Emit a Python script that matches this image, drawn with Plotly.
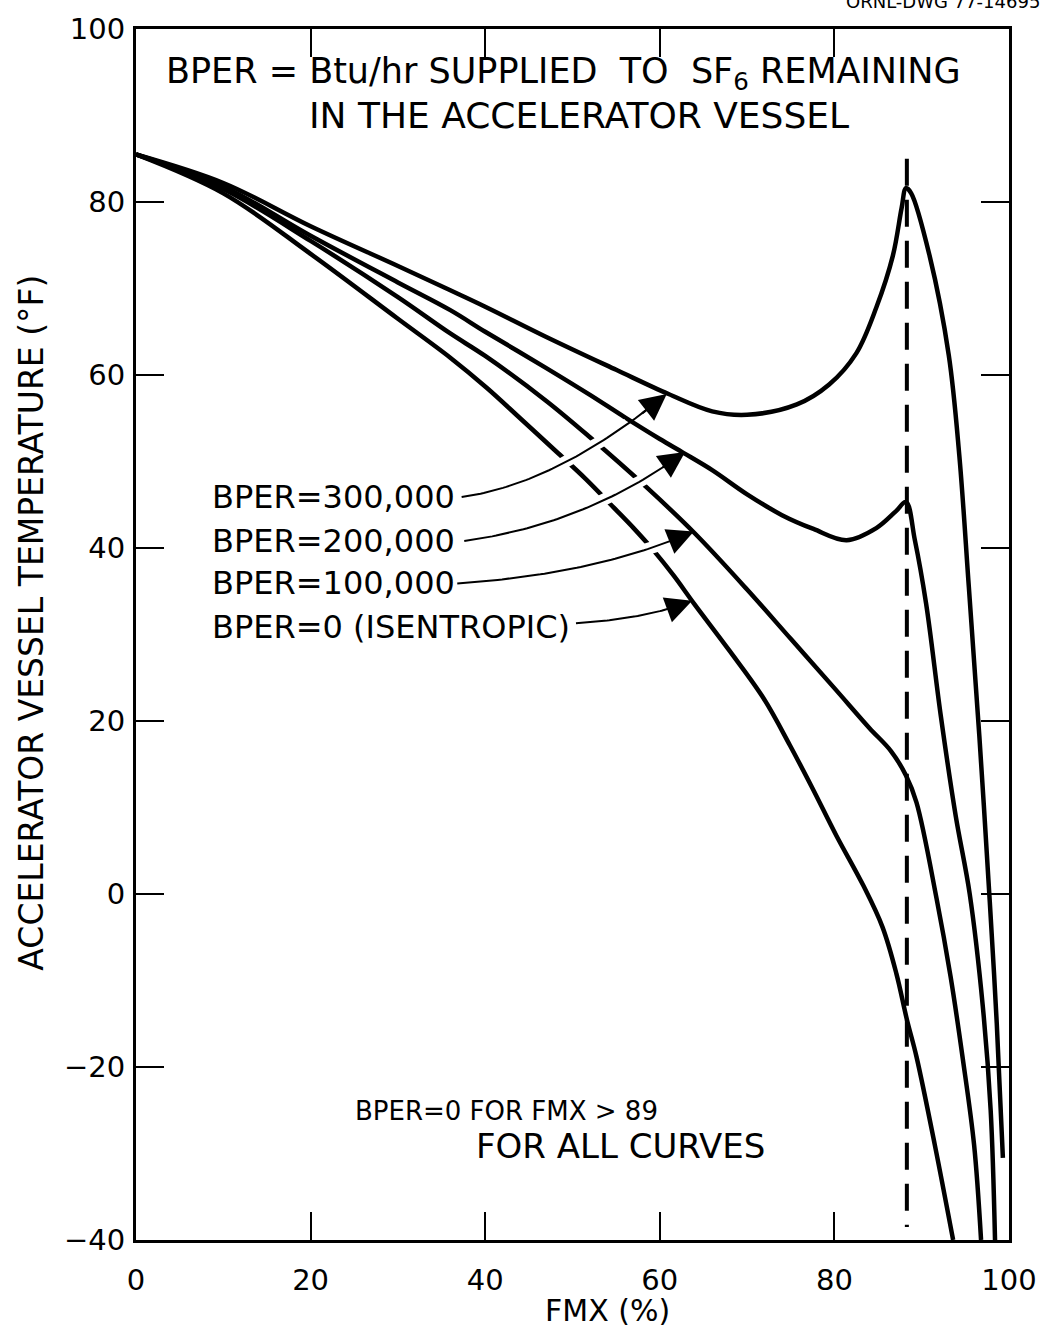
import numpy as np
import plotly.graph_objects as go

# FMX (%) vs accelerator vessel temperature (degF) for each BPER level
fmx_bper_0 = [0, 10, 20, 30, 36, 40.2, 44, 48.2, 51.5, 54.7, 57, 59.3, 61.6, 63.9, 68, 71.9, 74.9, 77.5,
              80.2, 83.3, 85.5, 87.1, 88.3, 89.4, 91.5, 93.6]
temp_bper_0 = [85.5, 81.0, 74.0, 66.5, 62.0, 58.5, 55.0, 51.1, 48.0, 44.7, 42.3, 39.7, 36.8, 33.6, 28.1, 22.6, 17.2, 12.2,
               6.8, 1.0, -3.8, -9.2, -14.5, -18.8, -29.0, -40]

fmx_bper_100k = [0, 10, 20, 30, 36, 40, 47, 52, 58.5, 64, 70, 75, 80, 84, 86.5, 88.2, 89.4, 91.7, 93.3, 94.7, 96, 96.8]
temp_bper_100k = [85.5, 81.5, 75.5, 69.0, 64.8, 62.2, 57.0, 52.8, 47.0, 41.7, 35.2, 29.5, 23.8, 19.2, 16.5, 13.7, 10.6, -0.5, -9.5, -19.0, -29.0, -40]

fmx_bper_200k = [0, 10, 20, 30, 36, 40, 47, 52, 56, 60, 62.7, 66, 70, 74, 77.6, 81.4, 84.8, 87, 88.2, 89.2, 90.5,
                 92.2, 93.9, 95.5, 97.0, 97.9, 98.4]
temp_bper_200k = [85.5, 81.8, 76.1, 70.7, 67.5, 65.0, 60.8, 57.7, 55.1, 52.6, 51.0, 49.0, 46.2, 43.8, 42.2, 40.9, 42.3, 44.2, 45.3, 41.0, 33.6,
                  20.5, 9.0, 0.0, -13.0, -25.0, -40]

fmx_bper_300k = [0, 10, 20, 30, 36, 40, 47, 55, 61, 66, 70, 75.7, 79.4, 82.5, 84.8, 86.7, 87.7, 88.2, 88.8, 90.9, 93.1, 94.3, 95.4, 96.6, 97.8, 98.6, 99.3]
temp_bper_300k = [85.5, 82.2, 77.2, 72.6, 69.8, 67.9, 64.4, 60.6, 57.8, 55.8, 55.4, 56.6, 58.9, 62.5, 67.8, 73.8, 79.3, 81.6, 81.0, 73.8, 62.3, 50.8, 35.5, 18.3, -0.9, -15.0, -30.5]

# BPER cut-off marker (BPER = 0 beyond this FMX)
cutoff_fmx = 88.3
cutoff_temp = [85.0, -38.5]

# curve labels: text, label anchor, leader start, leader bend, arrow tip
label_texts = ["BPER=300,000", "BPER=200,000", "BPER=100,000", "BPER=0 (ISENTROPIC)"]
label_pos = [(8.5, 45.9), (8.5, 40.8), (8.5, 35.9), (8.5, 30.9)]
leader_start = [(37.3, 45.9), (37.6, 40.8), (36.8, 35.9), (50.4, 31.3)]
leader_bend = [(48.2, 47.4), (51.7, 42.8), (52.8, 37.0), (58.5, 31.8)]
leader_tip = [(60.8, 57.8), (62.9, 51.1), (63.9, 41.9), (63.7, 33.9)]

x_ticks = [0, 20, 40, 60, 80, 100]
y_ticks = [-40, -20, 0, 20, 40, 60, 80, 100]

FONT = "DejaVu Sans"
INK = "black"

fig = go.Figure()

for xs, ys in [(fmx_bper_300k, temp_bper_300k), (fmx_bper_200k, temp_bper_200k),
               (fmx_bper_100k, temp_bper_100k), (fmx_bper_0, temp_bper_0)]:
    fig.add_trace(go.Scatter(
        x=xs, y=ys, mode="lines",
        line=dict(color=INK, width=4.5, shape="spline", smoothing=1.0),
        hoverinfo="skip", showlegend=False))

fig.add_trace(go.Scatter(
    x=[cutoff_fmx, cutoff_fmx], y=cutoff_temp, mode="lines",
    line=dict(color=INK, width=4, dash="27px,14px"),
    hoverinfo="skip", showlegend=False))


def bezier(p0, c, p1, t):
    t = np.asarray(t)
    bx = (1 - t) ** 2 * p0[0] + 2 * (1 - t) * t * c[0] + t ** 2 * p1[0]
    by = (1 - t) ** 2 * p0[1] + 2 * (1 - t) * t * c[1] + t ** 2 * p1[1]
    return bx, by


# white halo under each leader so the curves it crosses show a break
for p0, c, p1 in zip(leader_start, leader_bend, leader_tip):
    hx, hy = bezier(p0, c, p1, np.linspace(0.05, 0.82, 40))
    fig.add_trace(go.Scatter(x=hx, y=hy, mode="lines",
                             line=dict(color="white", width=12),
                             hoverinfo="skip", showlegend=False))

for p0, c, p1 in zip(leader_start, leader_bend, leader_tip):
    lx, ly = bezier(p0, c, p1, np.linspace(0, 0.97, 60))
    fig.add_trace(go.Scatter(x=lx, y=ly, mode="lines",
                             line=dict(color=INK, width=2),
                             hoverinfo="skip", showlegend=False))

annotations = []
for p0, c, p1 in zip(leader_start, leader_bend, leader_tip):
    tx, ty = bezier(p0, c, p1, [0.88])
    annotations.append(dict(
        x=p1[0], y=p1[1], ax=float(tx[0]), ay=float(ty[0]),
        xref="x", yref="y", axref="x", ayref="y",
        text="", showarrow=True, arrowhead=2, arrowsize=2.4,
        arrowwidth=2.2, arrowcolor=INK, standoff=0))

for txt, (lx, ly) in zip(label_texts, label_pos):
    annotations.append(dict(
        x=lx, y=ly, xref="x", yref="y", text=txt, showarrow=False,
        xanchor="left", yanchor="middle",
        font=dict(family=FONT, size=32, color=INK)))

# heading inside the frame
annotations.append(dict(
    x=49.0, y=94.8, xref="x", yref="y",
    text="BPER = Btu/hr SUPPLIED  TO  SF<sub>6</sub> REMAINING",
    showarrow=False, xanchor="center", yanchor="middle",
    font=dict(family=FONT, size=35, color=INK)))
annotations.append(dict(
    x=50.8, y=90.0, xref="x", yref="y",
    text="IN THE ACCELERATOR VESSEL",
    showarrow=False, xanchor="center", yanchor="middle",
    font=dict(family=FONT, size=36, color=INK)))

# note at the bottom
annotations.append(dict(
    x=24.8, y=-25.1, xref="x", yref="y", text="BPER=0 FOR FMX > 89",
    showarrow=False, xanchor="left", yanchor="middle",
    font=dict(family=FONT, size=26, color=INK)))
annotations.append(dict(
    x=38.7, y=-29.1, xref="x", yref="y", text="FOR ALL CURVES",
    showarrow=False, xanchor="left", yanchor="middle",
    font=dict(family=FONT, size=34, color=INK)))

# axis titles
annotations.append(dict(
    x=0.54, y=-0.058, xref="paper", yref="paper", text="FMX (%)",
    showarrow=False, xanchor="center", yanchor="middle",
    font=dict(family=FONT, size=30, color=INK)))
annotations.append(dict(
    x=-0.12, y=0.51, xref="paper", yref="paper",
    text="ACCELERATOR VESSEL TEMPERATURE (°F)", textangle=-90,
    showarrow=False, xanchor="center", yanchor="middle",
    font=dict(family=FONT, size=33, color=INK)))

# drawing number, partly cut off at the top edge
annotations.append(dict(
    x=1.038, y=1.0125, xref="paper", yref="paper", text="ORNL-DWG 77-14695",
    showarrow=False, xanchor="right", yanchor="bottom",
    font=dict(family=FONT, size=18, color=INK)))

axis_common = dict(
    showgrid=False, zeroline=False, showline=True, linecolor=INK, linewidth=3,
    mirror="ticks", ticks="inside", ticklen=28, tickwidth=2, tickcolor=INK,
    tickfont=dict(family=FONT, size=29, color=INK))

fig.update_layout(
    width=1049, height=1331,
    margin=dict(l=136, r=36, t=22, b=91),
    paper_bgcolor="white", plot_bgcolor="white",
    showlegend=False,
    xaxis=dict(range=[0, 100], tickvals=x_ticks, ticklabelstandoff=12, **axis_common),
    yaxis=dict(range=[-40, 100], tickvals=y_ticks, ticklabelstandoff=2, **axis_common),
    annotations=annotations,
)

fig.write_html("out.html")
